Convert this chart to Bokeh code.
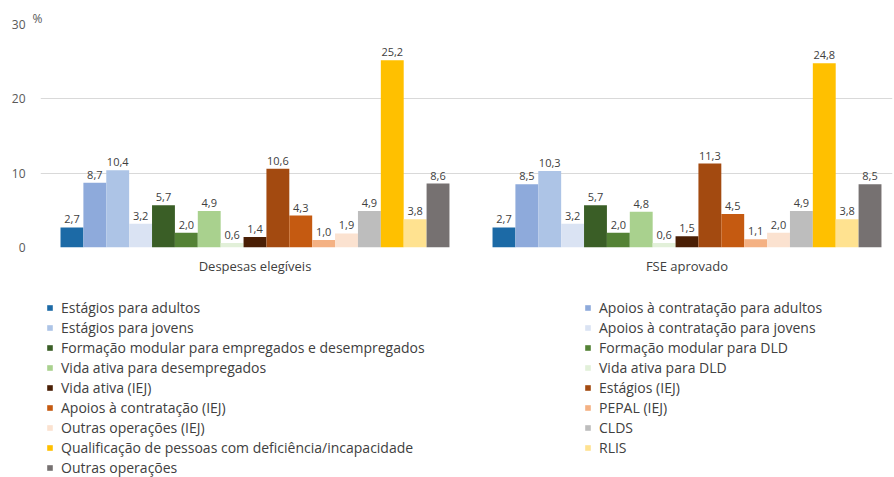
from bokeh.plotting import figure
from bokeh.layouts import column
from bokeh.models import ColumnDataSource, Range1d, FixedTicker, Legend, LegendItem
from bokeh.core.properties import value
from bokeh.embed import file_html
from bokeh.resources import INLINE

groups = ["Despesas elegíveis", "FSE aprovado"]
series = [
    "Estágios para adultos",
    "Apoios à contratação para adultos",
    "Estágios para jovens",
    "Apoios à contratação para jovens",
    "Formação modular para empregados e desempregados",
    "Formação modular para DLD",
    "Vida ativa para desempregados",
    "Vida ativa para DLD",
    "Vida ativa (IEJ)",
    "Estágios (IEJ)",
    "Apoios à contratação (IEJ)",
    "PEPAL (IEJ)",
    "Outras operações (IEJ)",
    "CLDS",
    "Qualificação de pessoas com deficiência/incapacidade",
    "RLIS",
    "Outras operações",
]
despesas = [2.7, 8.7, 10.4, 3.2, 5.7, 2.0, 4.9, 0.6, 1.4, 10.6, 4.3, 1.0, 1.9, 4.9, 25.2, 3.8, 8.6]
fse = [2.7, 8.5, 10.3, 3.2, 5.7, 2.0, 4.8, 0.6, 1.5, 11.3, 4.5, 1.1, 2.0, 4.9, 24.8, 3.8, 8.5]
colors = [
    "#1c6aa6", "#8eaadb", "#adc4e6", "#dae3f3",
    "#3a5e26", "#548235", "#a9d18e", "#e2f0d9",
    "#4a1f05", "#a34a10", "#c55a11", "#f4b183",
    "#fbe2d0", "#bdbdbd", "#ffc000", "#ffe290",
    "#767171",
]
y_ticks = [0, 10, 20, 30]

FONT = "Open Sans"
BAR_W = 0.05296

# ---- chart ----
p = figure(
    width=894, height=280,
    x_range=Range1d(-0.4965, 1.4757),
    y_range=Range1d(0, 30),
    output_backend="svg", toolbar_location=None,
    min_border_left=40, min_border_right=2, min_border_top=24, min_border_bottom=33,
)
p.outline_line_color = None
p.background_fill_color = "white"
p.border_fill_color = "white"

p.title.text = "%"
p.title.align = "left"
p.title.offset = -8
p.title.standoff = -4
p.title.text_font = FONT
p.title.text_font_size = "12px"
p.title.text_font_style = "normal"
p.title.text_color = "#595959"

# ---- legend area (its renderers sit far outside its visible range) ----
pl = figure(
    width=894, height=197, title=None,
    x_range=Range1d(-0.4965, 1.4757), y_range=Range1d(1000, 1001),
    x_axis_type=None, y_axis_type=None,
    output_backend="svg", toolbar_location=None, min_border=0,
)
pl.outline_line_color = None
pl.xgrid.grid_line_color = None
pl.ygrid.grid_line_color = None
pl.border_fill_color = "white"

items = []
n = len(series)
for i, name in enumerate(series):
    vals = [despesas[i], fse[i]]
    xs = [g + (i - (n - 1) / 2) * BAR_W for g in range(len(groups))]
    src = ColumnDataSource(dict(
        x=xs, top=vals,
        lab=[f"{v:.1f}".replace(".", ",") for v in vals],
    ))
    p.vbar(x="x", top="top", width=BAR_W, bottom=0, source=src,
           fill_color=colors[i], line_color=None)
    p.text(x="x", y="top", text="lab", source=src, text_align="center",
           text_baseline="bottom", y_offset=-4, text_font_size="11px",
           text_font=value(FONT), text_color="#404040")
    key = pl.vbar(x="x", top="top", width=BAR_W, bottom=0, source=src,
                  fill_color=colors[i], line_color=None)
    items.append(LegendItem(label=name, renderers=[key]))

legend = Legend(
    items=items, orientation="horizontal", ncols=2,
    location=(6, 0), padding=0, margin=0, spacing=1,
    glyph_width=7, glyph_height=7, label_standoff=8,
    label_width=522, label_height=19,
    label_text_font=FONT, label_text_font_size="14px",
    label_text_color="#404040",
    border_line_color=None, background_fill_alpha=0,
)
pl.add_layout(legend, "center")

p.xaxis.ticker = FixedTicker(ticks=[0, 1])
p.xaxis.major_label_overrides = {0: groups[0], 1: groups[1]}
p.xaxis.axis_line_color = None
p.xaxis.major_tick_line_color = None
p.xaxis.minor_tick_line_color = None
p.xaxis.major_tick_out = 0
p.xaxis.minor_tick_out = 0
p.xaxis.major_label_standoff = 9
p.xaxis.major_label_text_font = FONT
p.xaxis.major_label_text_font_size = "13px"
p.xaxis.major_label_text_color = "#404040"
p.xgrid.grid_line_color = None

p.yaxis.ticker = FixedTicker(ticks=y_ticks)
p.yaxis.axis_line_color = None
p.yaxis.major_tick_line_color = None
p.yaxis.minor_tick_line_color = None
p.yaxis.major_tick_out = 0
p.yaxis.minor_tick_out = 0
p.yaxis.major_label_standoff = 15
p.yaxis.major_label_text_font = FONT
p.yaxis.major_label_text_font_size = "12px"
p.yaxis.major_label_text_color = "#595959"
p.ygrid.grid_line_color = "#d9d9d9"
p.ygrid.grid_line_width = 1

layout = column(p, pl, spacing=0)
open("out.html", "w").write(file_html(layout, INLINE))
